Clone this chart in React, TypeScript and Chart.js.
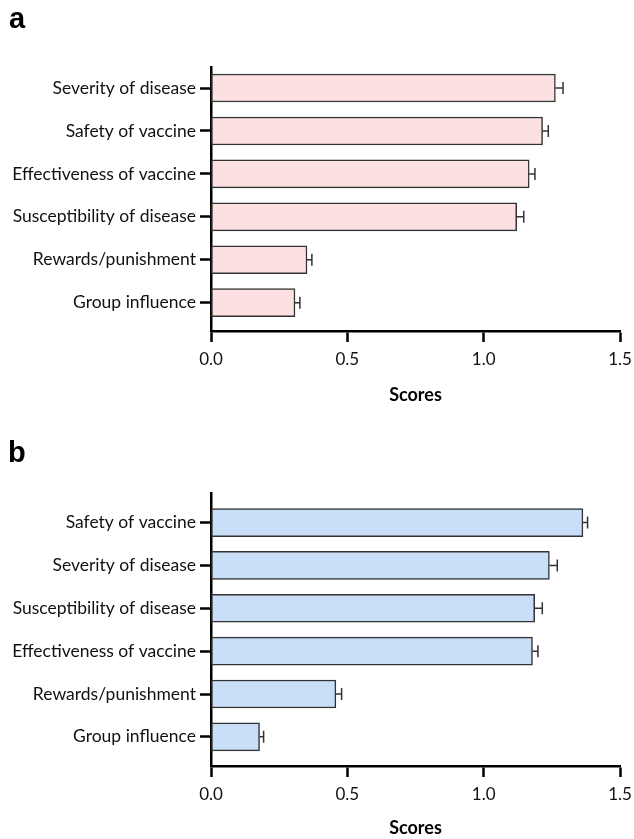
import React, { useEffect, useRef } from "react";
import { Chart, registerables } from "chart.js";

Chart.register(...registerables);

// ---------- data ----------
const labelsA = [
  "Severity of disease",
  "Safety of vaccine",
  "Effectiveness of vaccine",
  "Susceptibility of disease",
  "Rewards/punishment",
  "Group influence",
];
const valuesA = [1.263, 1.216, 1.167, 1.121, 0.352, 0.308];
const errorsA = [0.028, 0.021, 0.021, 0.026, 0.018, 0.018];

const labelsB = [
  "Safety of vaccine",
  "Severity of disease",
  "Susceptibility of disease",
  "Effectiveness of vaccine",
  "Rewards/punishment",
  "Group influence",
];
const valuesB = [1.364, 1.241, 1.187, 1.179, 0.458, 0.178];
const errorsB = [0.017, 0.029, 0.028, 0.02, 0.021, 0.015];

const xTicks = [0, 0.5, 1.0, 1.5];
const axisTitle = "Scores";
const panelLetters = ["a", "b"];

const FONT = "Lato, 'Open Sans', sans-serif";

function makeErrorPlugin(errors: number[]) {
  return {
    id: "errorBars",
    afterDatasetsDraw(chart: any) {
      const meta = chart.getDatasetMeta(0);
      const xs = chart.scales.x;
      const ctx = chart.ctx;
      const ds = chart.data.datasets[0].data as any[];
      ctx.save();
      ctx.strokeStyle = "#333";
      ctx.lineWidth = 1.5;
      meta.data.forEach((bar: any, i: number) => {
        const v = ds[i].x;
        const x0 = xs.getPixelForValue(v);
        const x1 = xs.getPixelForValue(v + errors[i]);
        const y = bar.y;
        ctx.beginPath();
        ctx.moveTo(x0, y);
        ctx.lineTo(x1, y);
        ctx.moveTo(x1, y - 6);
        ctx.lineTo(x1, y + 6);
        ctx.stroke();
      });
      ctx.restore();
    },
  };
}

type PanelProps = {
  labels: string[];
  values: number[];
  errors: number[];
  color: string;
  height: number;
  areaTop: number;
  areaBottom: number;
  yMin: number;
  yMax: number;
  titlePadBottom: number;
};

function Panel(p: PanelProps) {
  const ref = useRef<HTMLCanvasElement | null>(null);
  useEffect(() => {
    if (!ref.current) return;
    const chart = new Chart(ref.current, {
      type: "bar",
      data: {
        datasets: [
          {
            data: p.values.map((v, i) => ({ x: v, y: i })),
            backgroundColor: p.color,
            borderColor: "#333",
            borderWidth: 1.5,
            borderSkipped: false,
            barThickness: 28,
          } as any,
        ],
      },
      options: {
        indexAxis: "y",
        responsive: false,
        animation: false,
        events: [],
        layout: { padding: { top: p.areaTop, right: 14, bottom: 0, left: 0 } },
        plugins: { legend: { display: false }, tooltip: { enabled: false } },
        scales: {
          y: {
            type: "linear",
            reverse: true,
            offset: false,
            min: p.yMin,
            max: p.yMax,
            z: 1,
            afterBuildTicks: (s: any) => {
              s.ticks = p.labels.map((_, i) => ({ value: i }));
            },
            afterFit: (s: any) => {
              s.width = 211;
              s.paddingTop = 0;
              s.paddingBottom = 0;
            },
            ticks: {
              callback: (v: any) => p.labels[Math.round(Number(v))],
              font: { family: FONT, size: 17.5 },
              color: "#111",
              padding: 4,
            },
            grid: {
              offset: false,
              drawOnChartArea: false,
              tickLength: 11,
              tickWidth: 2.5,
              tickColor: "#000",
            },
            border: { color: "#000", width: 2.5 },
          },
          x: {
            type: "linear",
            min: 0,
            max: 1.5,
            z: 1,
            afterBuildTicks: (s: any) => {
              s.ticks = xTicks.map((v) => ({ value: v }));
            },
            afterFit: (s: any) => {
              s.height = p.height - p.areaBottom;
              s.paddingLeft = 0;
              s.paddingRight = 0;
            },
            ticks: {
              callback: (v: any) => Number(v).toFixed(1),
              font: { family: FONT, size: 17 },
              color: "#111",
              padding: 7,
              maxRotation: 0,
            },
            grid: {
              drawOnChartArea: false,
              tickLength: 11,
              tickWidth: 2.5,
              tickColor: "#000",
            },
            border: { color: "#000", width: 2.5 },
            title: {
              display: true,
              text: axisTitle,
              font: { family: FONT, size: 18, weight: "bold" },
              color: "#000",
              padding: { top: 0, bottom: p.titlePadBottom },
            },
          },
        },
      } as any,
      plugins: [makeErrorPlugin(p.errors)],
    });
    return () => chart.destroy();
  }, []);
  return <canvas ref={ref} width={634} height={p.height} style={{ display: "block" }} />;
}

const letterStyle: React.CSSProperties = {
  position: "absolute",
  fontFamily: "'Liberation Sans', Arial, sans-serif",
  fontWeight: "bold",
  fontSize: 29,
  lineHeight: "29px",
  color: "#000",
};

export default function App() {
  return (
    <div
      style={{
        position: "absolute",
        left: 0,
        top: 0,
        width: 634,
        height: 839,
        overflow: "hidden",
        background: "#fff",
      }}
    >
      <div style={{ position: "absolute", left: 0, top: 0 }}>
        <Panel
          labels={labelsA}
          values={valuesA}
          errors={errorsA}
          color="#FDE0E1"
          height={420}
          areaTop={67}
          areaBottom={331}
          yMin={-0.49}
          yMax={5.66}
          titlePadBottom={14}
        />
      </div>
      <div style={{ position: "absolute", left: 0, top: 420 }}>
        <Panel
          labels={labelsB}
          values={valuesB}
          errors={errorsB}
          color="#C9DEF7"
          height={419}
          areaTop={73}
          areaBottom={346}
          yMin={-0.69}
          yMax={5.68}
          titlePadBottom={0}
        />
      </div>
      <div style={{ ...letterStyle, left: 9, top: 3.5 }}>{panelLetters[0]}</div>
      <div style={{ ...letterStyle, left: 8, top: 438 }}>{panelLetters[1]}</div>
    </div>
  );
}
